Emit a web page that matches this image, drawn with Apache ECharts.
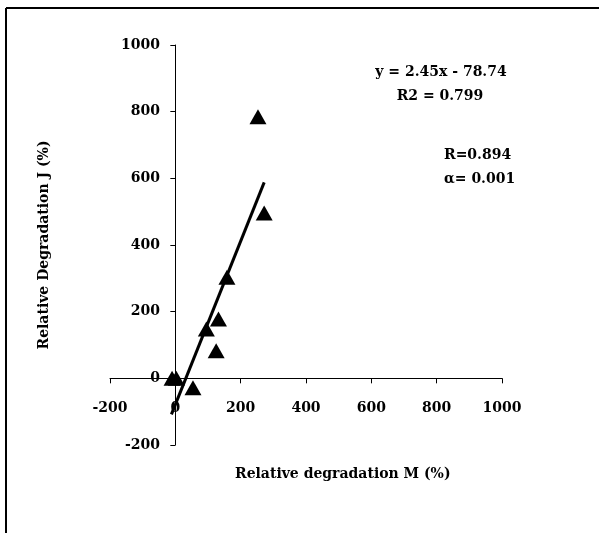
<!DOCTYPE html>
<html>
<head>
<meta charset="utf-8">
<script src="https://cdn.jsdelivr.net/npm/echarts@6/dist/echarts.min.js"></script>
<style>
  html, body { margin: 0; padding: 0; background: #fff; }
  #chart { width: 599px; height: 533px; }
</style>
</head>
<body>
<div id="chart"></div>
<script>
// 数据：相对降解率 M / J (%)
var degM = [-10, 3, 54, 95, 125, 132, 158, 272, 253];
var degJ = [0, 0, -28, 148, 83, 178, 303, 496, 785];
// 趋势线两端
var trendM = [-12, 272];
var trendJ = [-108, 588];
var axisMin = -200, axisMax = 1000, axisStep = 200;
var eqText = ['y = 2.45x - 78.74', 'R2 = 0.799'];
var statText = ['R=0.894', 'α= 0.001'];

var font = '"DejaVu Serif", "Liberation Serif", serif';
var points = degM.map(function (m, i) { return [m, degJ[i]]; });
var trend = trendM.map(function (m, i) { return [m, trendJ[i]]; });
var plain = function (v) { return String(v); };

var chart = echarts.init(document.getElementById('chart'));
chart.setOption({
  backgroundColor: '#fff',
  animation: false,
  grid: { left: 110, right: 97, top: 45, bottom: 88, containLabel: false, outerBoundsMode: 'none' },
  xAxis: {
    type: 'value',
    min: axisMin, max: axisMax, interval: axisStep,
    splitLine: { show: false },
    axisLine: { onZero: true, lineStyle: { color: '#000', width: 1 } },
    axisTick: { show: true, length: 5, lineStyle: { color: '#000' } },
    // 标签相对网格底边定位，负边距把它拉回零线下方
    axisLabel: { margin: -44, formatter: plain, color: '#000', fontFamily: font, fontWeight: 'bold', fontSize: 14 }
  },
  yAxis: {
    type: 'value',
    min: axisMin, max: axisMax, interval: axisStep,
    splitLine: { show: false },
    axisLine: { onZero: true, lineStyle: { color: '#000', width: 1 } },
    axisTick: { show: true, length: 5, lineStyle: { color: '#000' } },
    axisLabel: { margin: -50, formatter: plain, color: '#000', fontFamily: font, fontWeight: 'bold', fontSize: 14 },
    name: 'Relative Degradation J (%)',
    nameLocation: 'middle',
    nameGap: 59,
    nameTextStyle: { color: '#000', fontFamily: font, fontWeight: 'bold', fontSize: 14 }
  },
  series: [{
    type: 'line',
    data: trend,
    symbol: 'none',
    lineStyle: { color: '#000', width: 3 },
    z: 2
  }, {
    type: 'scatter',
    data: points,
    symbol: 'triangle',
    symbolSize: [17, 15],
    itemStyle: { color: '#000', opacity: 1 },
    z: 3
  }],
  graphic: [
    // 外框（仅上、左）
    { type: 'line', shape: { x1: 6, y1: 8, x2: 599, y2: 8 }, style: { stroke: '#000', lineWidth: 2 } },
    { type: 'line', shape: { x1: 6, y1: 8, x2: 6, y2: 533 }, style: { stroke: '#000', lineWidth: 2 } },
    { type: 'text', left: 235, top: 467,
      style: { text: 'Relative degradation M (%)', fill: '#000', font: 'bold 14px ' + font } },
    { type: 'text', x: 441, y: 72,
      style: { text: eqText[0], fill: '#000', font: 'bold 14px ' + font, textAlign: 'center', textVerticalAlign: 'middle' } },
    { type: 'text', x: 440, y: 96,
      style: { text: eqText[1], fill: '#000', font: 'bold 14px ' + font, textAlign: 'center', textVerticalAlign: 'middle' } },
    { type: 'text', x: 444, y: 155,
      style: { text: statText[0], fill: '#000', font: 'bold 14px ' + font, textAlign: 'left', textVerticalAlign: 'middle' } },
    { type: 'text', x: 444, y: 179,
      style: { text: statText[1], fill: '#000', font: 'bold 14px ' + font, textAlign: 'left', textVerticalAlign: 'middle' } }
  ]
});
</script>
</body>
</html>
